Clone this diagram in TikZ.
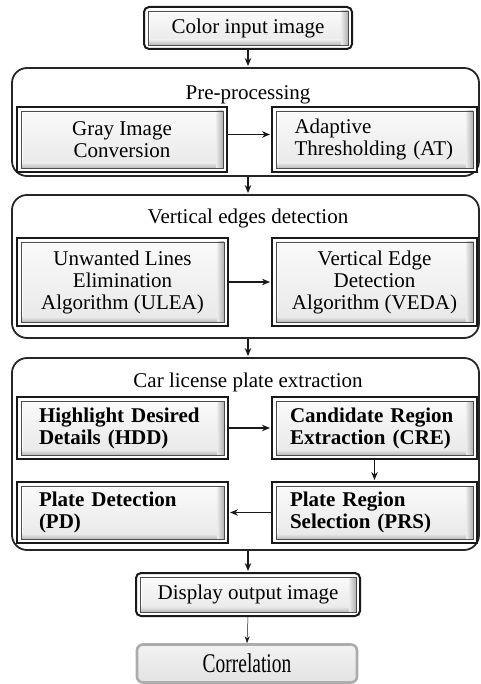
\documentclass[tikz,border=0pt]{standalone}
\usepackage{fontspec}
\setmainfont{Liberation Serif}
\usetikzlibrary{arrows.meta}

\tikzset{
  every node/.style={font=\fontsize{21}{22}\selectfont, text=black},
  % double-framed box with a bevelled grey panel inside
  bevel/.style={draw=black!90, line width=2pt, fill=white, inner sep=0pt,
    path picture={
      \begin{scope}[sharp corners]
      \coordinate (bvA) at ([shift={(4pt,-4pt)}]path picture bounding box.north west);
      \coordinate (bvB) at ([shift={(-4pt,4pt)}]path picture bounding box.south east);
      \path (bvA -| bvB) ++(-7pt,0) coordinate (bvC);
      \path (bvA |- bvB) ++(0,5pt) coordinate (bvD);
      \shade[top color=gray!4, bottom color=gray!18] (bvA) rectangle (bvB);
      \shade[top color=gray!18, bottom color=gray!55] (bvD) rectangle (bvB);
      \shade[left color=gray!15, right color=gray!62] (bvC) rectangle (bvB);
      \draw[white, line width=1.2pt] ([shift={(1pt,-1pt)}]bvA) -- ([shift={(1pt,-1pt)}]bvA -| bvC);
      \draw[white, line width=1.2pt] ([shift={(1pt,-1pt)}]bvA) -- ([shift={(1pt,1pt)}]bvA |- bvD);
      \draw[black!70, line width=0.6pt] (bvA) rectangle (bvB);
      \end{scope}
    }},
  group/.style={draw=black!85, line width=1.8pt, rounded corners=15pt, inner sep=0pt},
  heavy/.style={font=\fontsize{21}{22}\selectfont\bfseries},
  arr/.style={-{Stealth[length=8pt,width=6.5pt]}, line width=1.4pt, black!90, shorten >=1pt},
  thinarr/.style={-{Stealth[length=7pt,width=5pt]}, line width=0.5pt, black!90},
  corrbox/.style={draw=gray!65, line width=2.6pt, rounded corners=6pt,
    top color=gray!10, bottom color=gray!22, inner sep=0pt}
}

\begin{document}
\begin{tikzpicture}[x=1pt,y=-1pt]
\useasboundingbox (0,0) rectangle (480,684);

% input
\node[bevel, rounded corners=5pt, minimum width=208pt, minimum height=42pt] (in) at (248,28) {Color input image};

% pre-processing stage
\node[group, minimum width=467pt, minimum height=108pt] (g1) at (245.5,122) {};
\node (g1t) at (248,95) {Pre-processing};
\node[bevel, minimum width=210pt, minimum height=65pt, align=center] (gic) at (122,139.5) {Gray Image\\Conversion};
\node[bevel, minimum width=205pt, minimum height=65pt, text width=160pt, align=left] (at) at (374.5,139.5) {Adaptive\\Thresholding (AT)};

% vertical edges stage
\node[group, minimum width=467pt, minimum height=143pt] (g2) at (245.5,266.5) {};
\node (g2t) at (248,218) {Vertical edges detection};
\node[bevel, minimum width=211pt, minimum height=88pt, align=center] (ulea) at (122.5,282) {Unwanted Lines\\Elimination\\Algorithm (ULEA)};
\node[bevel, minimum width=205pt, minimum height=88pt, align=center] (veda) at (374.5,282) {Vertical Edge\\Detection\\Algorithm (VEDA)};

% plate extraction stage
\node[group, minimum width=467pt, minimum height=192pt] (g3) at (245.5,454) {};
\node (g3t) at (248,382) {Car license plate extraction};
\node[bevel, heavy, minimum width=211pt, minimum height=62pt, text width=167pt, align=left] (hdd) at (122.5,428) {Highlight Desired\\Details (HDD)};
\node[bevel, heavy, minimum width=205pt, minimum height=62pt, text width=169pt, align=left] (cre) at (374.5,428) {Candidate Region\\Extraction (CRE)};
\node[bevel, heavy, minimum width=211pt, minimum height=61pt, text width=167pt, align=left] (pd) at (122.5,512.5) {Plate Detection\\(PD)};
\node[bevel, heavy, minimum width=205pt, minimum height=61pt, text width=169pt, align=left] (prs) at (374.5,512.5) {Plate Region\\Selection (PRS)};

% output
\node[bevel, rounded corners=5pt, minimum width=224pt, minimum height=43pt] (disp) at (248,594.5) {Display output image};
\node[corrbox, minimum width=220pt, minimum height=38pt] (corr) at (247,663.5)
  {\fontsize{27}{27}\selectfont\scalebox{0.72}[1]{Correlation}};

% connectors
\draw[arr] (in.south) -- (in.south |- g1.north);
\draw[arr] ([yshift=5pt]gic.east) -- ([yshift=5pt]at.west);
\draw[arr] (in.south |- g1.south) -- (in.south |- g2.north);
\draw[arr] (ulea) -- (veda);
\draw[arr] (in.south |- g2.south) -- (in.south |- g3.north);
\draw[arr] (hdd) -- (cre);
\draw[arr] (cre) -- (prs);
\draw[arr] (prs) -- (pd);
\draw[arr] (in.south |- g3.south) -- (disp.north);
\draw[thinarr] (disp.south) -- (corr.north);
\end{tikzpicture}
\end{document}
